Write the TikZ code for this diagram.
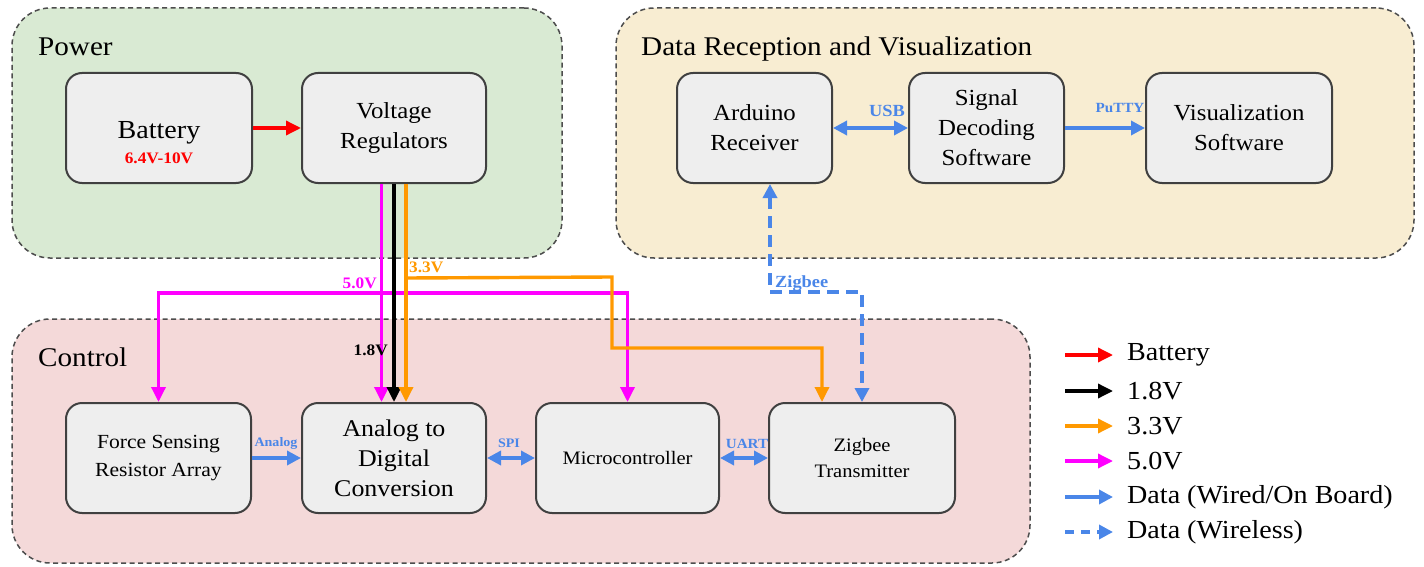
\documentclass[tikz,border=0pt]{standalone}
\usepackage{fontspec}
\setmainfont{Liberation Serif}[FakeStretch=1.08]
\usetikzlibrary{arrows.meta,calc}
\definecolor{gGreen}{HTML}{D9EAD3}
\definecolor{gYellow}{HTML}{F8EDD2}
\definecolor{gRed}{HTML}{F4D9D9}
\definecolor{bFill}{HTML}{EEEEEE}
\definecolor{bLine}{HTML}{404040}
\definecolor{gLine}{HTML}{4D4D4D}
\definecolor{dBlue}{HTML}{4A86E8}
\definecolor{pOrange}{HTML}{FF9900}
\definecolor{pMag}{HTML}{FF00FF}
\definecolor{pRed}{HTML}{FF0000}
\newcommand{\fsz}[2]{\fontsize{#1}{#2}\selectfont}
\begin{document}
\begin{tikzpicture}[x=1pt,y=-1pt,
  grp/.style={draw=gLine, line width=1.5pt, dash pattern=on 5pt off 3.5pt, rounded corners=38pt, inner sep=0},
  grptitle/.style={anchor=base west, font=\fsz{27}{30}, inner sep=0},
  blk/.style={draw=bLine, fill=bFill, line width=2pt, rounded corners=16pt, minimum height=110pt, align=center, inner sep=0},
  ptip/.style={-{Triangle[length=15pt,width=14pt]}},
  pwr/.style={line width=3.4pt, ptip},
  dtip/.style={-{Triangle[length=14pt,width=14pt]}},
  dbl/.style={{Triangle[length=14pt,width=14pt]}-{Triangle[length=14pt,width=14pt]}},
  data/.style={line width=3.4pt, draw=dBlue},
  wless/.style={line width=3.4pt, draw=dBlue, dash pattern=on 12pt off 7pt},
  dlbl/.style={font=\bfseries, text=dBlue, inner sep=0, anchor=base},
  vlbl/.style={font=\fsz{16}{16}\bfseries, inner sep=0},
  legtxt/.style={font=\fsz{26}{28}, anchor=west, inner sep=0}
]
\useasboundingbox (0,0) rectangle (1424,567);

% groups
\node[grp, fill=gGreen, minimum width=550pt, minimum height=250pt] (power) at (287,133) {};
\node[grp, fill=gYellow, minimum width=798pt, minimum height=250pt] (recv) at (1015,133) {};
\node[grp, fill=gRed, minimum width=1018pt, minimum height=244pt] (control) at (521,441) {};
\node[grptitle] (tpower) at (38,56) {Power};
\node[grptitle] (trecv) at (641,56) {Data Reception and Visualization};
\node[grptitle] (tcontrol) at (38,366) {Control};

% boxes
\node[blk, minimum width=186pt] (bat) at (159,128) {};
\node[font=\fsz{26}{28}, inner sep=0, anchor=base] (battxt) at (159,139) {Battery};
\node[font=\fsz{16}{16}\bfseries, text=pRed, inner sep=0, anchor=base] (batv) at (159,164) {6.4V-10V};
\node[blk, minimum width=184pt, font=\fsz{23}{30}] (vr) at (394,128) {Voltage\\Regulators};
\node[blk, minimum width=155pt, font=\fsz{23}{30}] (ard) at (754.5,128) {Arduino\\Receiver};
\node[blk, minimum width=155pt, font=\fsz{23}{30}] (sds) at (986.5,128) {Signal\\Decoding\\Software};
\node[blk, minimum width=186pt, font=\fsz{23}{30}] (vis) at (1239,128) {Visualization\\Software};

\node[blk, minimum width=185pt, font=\fsz{20}{28}] (fsr) at (158.5,458) {Force Sensing\\Resistor Array};
\node[blk, minimum width=184pt, font=\fsz{24}{30}] (adc) at (394,458) {Analog to\\Digital\\Conversion};
\node[blk, minimum width=183pt, font=\fsz{19}{26}] (mc) at (627.5,458) {Microcontroller};
\node[blk, minimum width=186pt, font=\fsz{19}{26}] (zt) at (862,458) {Zigbee\\Transmitter};

% power connectors
\draw[pwr, draw=pRed] (bat.east) -- (vr.west);
\coordinate (m1) at ($(vr.south)+(-12.5,0)$);
\coordinate (m2) at ($(vr.south)+(-12.5,109)$);
\coordinate (o1) at ($(vr.south)+(12,0)$);
\coordinate (o2) at ($(vr.south)+(12,94)$);
\coordinate (o3) at (612,277);
\coordinate (o4) at (612,348);
\draw[pwr, draw=pMag] (m2) -| (fsr.north);
\draw[pwr, draw=pMag] (m2) -| (mc.north);
\draw[pwr, draw=pMag] (m1) -- ($(adc.north)+(-12.5,0)$);
\draw[pwr, draw=black] (vr.south) -- (adc.north);
\draw[pwr, draw=pOrange] (o1) -- ($(adc.north)+(12,0)$);
\draw[pwr, draw=pOrange] (o2) -- (o3) -- (o4) -| ($(zt.north)+(-40,0)$);
\node[vlbl, text=pMag, anchor=base east] (l5v) at (377,288) {5.0V};
\node[vlbl, text=pOrange, anchor=base west] (l33v) at (409,272) {3.3V};
\node[vlbl, text=black, anchor=base east] (l18v) at (388,355) {1.8V};

% wireless
\coordinate (zk) at (862,292);
\draw[wless, dbl] ($(ard.south)+(15.5,0)$) |- (zk) -- (zt.north);
\node[font=\fsz{17}{17}\bfseries, text=dBlue, inner sep=0, anchor=base west] (lzig) at (775,287) {Zigbee};

% data connectors
\draw[data, dtip] (fsr.east) -- (adc.west);
\draw[data, dbl] (adc.east) -- (mc.west);
\draw[data, dbl] (mc.east) -- (zt.west);
\draw[data, dbl] (ard.east) -- (sds.west);
\draw[data, dtip] (sds.east) -- (vis.west);
\node[dlbl, font=\fsz{13}{13}\bfseries] (lan) at (276,446) {Analog};
\node[dlbl, font=\fsz{13}{13}\bfseries] (lspi) at (509,447) {SPI};
\node[dlbl, font=\fsz{14}{14}\bfseries] (luart) at (747,448) {UART};
\node[dlbl, font=\fsz{17}{17}\bfseries] (lusb) at (887,117) {USB};
\node[dlbl, font=\fsz{14}{14}\bfseries] (lputty) at (1120,113) {PuTTY};

% legend
\foreach \i/\yy/\txt in {1/355/{Battery}, 2/391/{1.8V}, 3/426/{3.3V}, 4/461/{5.0V}, 5/497/{Data (Wired/On Board)}, 6/532/{Data (Wireless)}}{
  \coordinate (ls\i) at (1065,\yy);
  \coordinate (le\i) at (1113,\yy);
  \node[legtxt] (lt\i) at (1127,\yy) {\txt};
}
\draw[pwr, draw=pRed] (ls1) -- (le1);
\draw[pwr, draw=black] (ls2) -- (le2);
\draw[pwr, draw=pOrange] (ls3) -- (le3);
\draw[pwr, draw=pMag] (ls4) -- (le4);
\draw[data, dtip] (ls5) -- (le5);
\draw[wless, dtip, dash pattern=on 9pt off 7pt] (ls6) -- (le6);
\end{tikzpicture}
\end{document}
